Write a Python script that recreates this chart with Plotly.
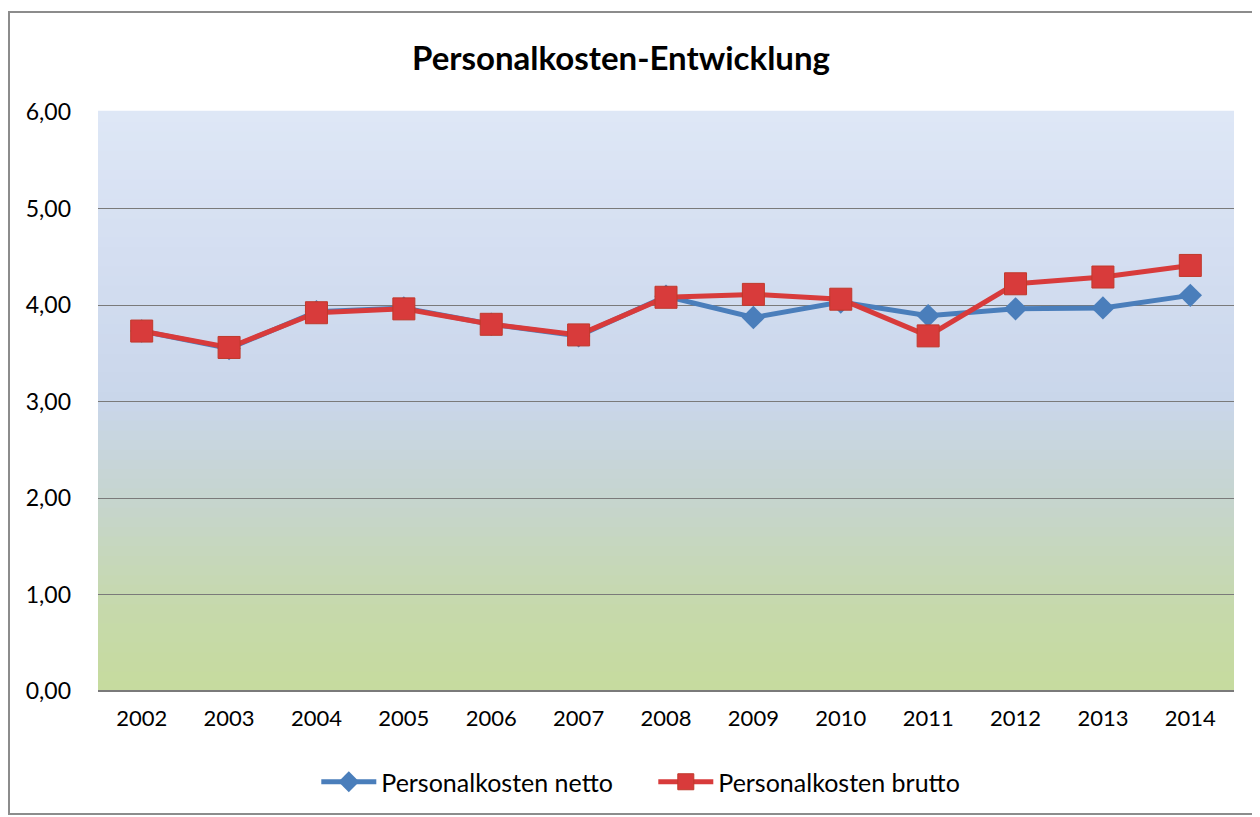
import plotly.graph_objects as go

years = ["2002", "2003", "2004", "2005", "2006", "2007", "2008", "2009", "2010", "2011", "2012", "2013", "2014"]
netto = [3.73, 3.55, 3.93, 3.97, 3.80, 3.68, 4.09, 3.87, 4.03, 3.89, 3.96, 3.97, 4.10]
brutto = [3.73, 3.56, 3.92, 3.96, 3.80, 3.69, 4.08, 4.11, 4.06, 3.68, 4.22, 4.29, 4.41]
y_ticks = [0, 1, 2, 3, 4, 5, 6]

FONT = "Lato"

# page body adds an 8px offset, so the figure is sized to fit the window
W, H = 1252, 809
L, R, T, B = 90, 26, 104, 126
PW, PH = W - L - R, H - T - B

fig = go.Figure()
fig.add_trace(go.Scatter(
    x=years, y=netto, name="Personalkosten netto", mode="lines+markers",
    line=dict(color="#4a7ebb", width=5),
    marker=dict(symbol="diamond", size=18, color="#4a7ebb"),
))
fig.add_trace(go.Scatter(
    x=years, y=brutto, name="Personalkosten brutto", mode="lines+markers",
    line=dict(color="#d83b3b", width=5),
    marker=dict(symbol="square", size=22, color="#d83b3b", line=dict(color="#c0392b", width=1)),
))

# gradient background (blue top -> green bottom)
stops = [(0.0, (198, 219, 158)), (0.15, (198, 217, 172)), (0.33, (198, 213, 206)),
         (0.5, (201, 214, 234)), (0.75, (212, 222, 241)), (1.0, (222, 231, 246))]

def col(t):
    for i in range(len(stops) - 1):
        t0, c0 = stops[i]
        t1, c1 = stops[i + 1]
        if t0 <= t <= t1:
            f = (t - t0) / (t1 - t0)
            return "rgb(%d,%d,%d)" % tuple(round(c0[k] + (c1[k] - c0[k]) * f) for k in range(3))
    return "rgb(%d,%d,%d)" % stops[-1][1]

n = 60
shapes = []
for i in range(n):
    shapes.append(dict(type="rect", xref="x domain", yref="y domain",
                       x0=0, x1=1, y0=i / n, y1=(i + 1) / n + 0.002,
                       fillcolor=col((i + 0.5) / n), line=dict(width=0), layer="below"))
# outer frame (paper pixel coords converted to domain fractions)
fx0 = (1 - L) / PW
fx1 = (1247 - L) / PW
fy1 = 1 + (T - 4) / PH
fy0 = -(806 - (T + PH)) / PH
shapes.append(dict(type="rect", xref="paper", yref="paper", x0=fx0, x1=fx1, y0=fy0, y1=fy1,
                   line=dict(color="#8c8c8c", width=2), fillcolor="rgba(0,0,0,0)", layer="above"))

fig.update_layout(
    width=W, height=H,
    margin=dict(l=L, r=R, t=T, b=B, autoexpand=False),
    paper_bgcolor="white", plot_bgcolor="rgba(0,0,0,0)",
    separators=",.",
    shapes=shapes,
    title=dict(text="<b>Personalkosten-Entwicklung</b>", x=613 / W, xanchor="center",
               y=1 - 50 / H, yanchor="middle",
               font=dict(family=FONT, size=33, color="black")),
    font=dict(family=FONT, size=22, color="black"),
    showlegend=True,
    legend=dict(orientation="h", x=612 / W, xanchor="center", y=-91 / PH, yanchor="middle",
                bgcolor="rgba(0,0,0,0)",
                font=dict(family=FONT, size=25, color="black"), itemwidth=55,
                entrywidth=267, entrywidthmode="pixels"),
    xaxis=dict(range=[-0.5, 12.5], showgrid=False, showline=False, ticks="",
               tickfont=dict(size=22), ticklabelstandoff=12),
    yaxis=dict(range=[0, 6], tickvals=y_ticks, tickformat=".2f", showgrid=True,
               gridcolor="#7a7a7a", gridwidth=1, zeroline=True, zerolinecolor="#7a7a7a",
               tickfont=dict(size=23), ticklabelstandoff=26),
)
fig.write_html("out.html")
